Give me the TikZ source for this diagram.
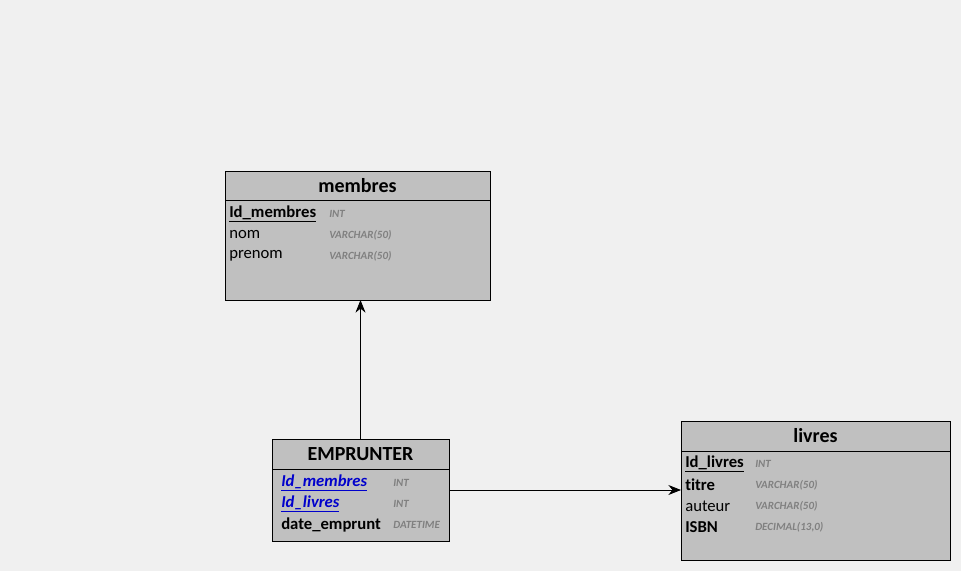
\documentclass[tikz,border=0pt]{standalone}
\usepackage{fontspec}
\setmainfont{Carlito}[Ligatures=NoCommon]
\usetikzlibrary{positioning,arrows.meta}
\definecolor{bgcol}{HTML}{F0F0F0}
\definecolor{tabcol}{HTML}{C0C0C0}
\definecolor{typecol}{HTML}{808080}
\definecolor{fkcol}{HTML}{0000CC}
\newcommand{\pkfield}[1]{\underline{\textbf{#1}}}
\newcommand{\fkfield}[1]{\textcolor{fkcol}{\underline{\textbf{\textit{#1}}}}}

\begin{document}
\begin{tikzpicture}[x=0.75pt, y=-0.75pt, node distance=0pt]

		\tikzstyle{tablehead} = [draw=black, fill=tabcol, rectangle, inner sep=0pt, outer sep=0pt, font=\fontsize{15}{18}\selectfont\bfseries]
		\tikzstyle{tablebody} = [draw=black, fill=tabcol, rectangle, inner sep=0pt, outer sep=0pt]
		\tikzstyle{field} = [anchor=west, inner sep=0pt, font=\fontsize{12.5}{15}\selectfont]
		\tikzstyle{ftype} = [anchor=west, inner sep=0pt, text=typecol, font=\fontsize{8.25}{10}\selectfont\bfseries\itshape]
		\tikzstyle{link} = [-{Stealth[length=9.5pt, width=7.5pt]}, draw=black, semithick]

		\fill[bgcol] (0,0) rectangle (961,571);

		% table membres
		\node[tablehead, minimum width=265*0.75pt, minimum height=29*0.75pt] (mem_head) at (357.5,185.5) {membres};
		\node[tablebody, minimum width=265*0.75pt, minimum height=100*0.75pt, below=of mem_head] (mem) {};
		\node[field] (mem_id) at (229,214) {\pkfield{Id\_membres}};
		\node[field] (mem_nom) at (229,235) {nom};
		\node[field] (mem_prenom) at (229,256) {prenom};
		\node[ftype] at (329,214) {INT};
		\node[ftype] at (329,235) {VARCHAR(50)};
		\node[ftype] at (329,256) {VARCHAR(50)};

		% table EMPRUNTER
		\node[tablehead, minimum width=177*0.75pt, minimum height=30*0.75pt] (emp_head) at (360.5,454) {EMPRUNTER};
		\node[tablebody, minimum width=177*0.75pt, minimum height=72*0.75pt, below=of emp_head] (emp) {};
		\node[field] (emp_mem) at (281,483) {\fkfield{Id\_membres}};
		\node[field] (emp_liv) at (281,504) {\fkfield{Id\_livres}};
		\node[field] (emp_date) at (281,525) {\textbf{date\_emprunt}};
		\node[ftype] at (393,483) {INT};
		\node[ftype] at (393,504) {INT};
		\node[ftype] at (393,525) {DATETIME};

		% table livres
		\node[tablehead, minimum width=269*0.75pt, minimum height=30*0.75pt] (liv_head) at (815.5,436) {livres};
		\node[tablebody, minimum width=269*0.75pt, minimum height=109*0.75pt, below=of liv_head] (liv) {};
		\node[field] (liv_id) at (685,464) {\pkfield{Id\_livres}};
		\node[field] (liv_titre) at (685,485) {\textbf{titre}};
		\node[field] (liv_auteur) at (685,506) {auteur};
		\node[field] (liv_isbn) at (685,527) {\textbf{ISBN}};
		\node[ftype] at (755,464) {INT};
		\node[ftype] at (755,485) {VARCHAR(50)};
		\node[ftype] at (755,506) {VARCHAR(50)};
		\node[ftype] at (755,527) {DECIMAL(13,0)};

		\draw[link] (emp_head.north) -- (emp_head.north |- mem.south);
		\draw[link] (emp.east |- 0,490) -- (emp.east |- 0,490 -| liv.west);

	\end{tikzpicture}
\end{document}
